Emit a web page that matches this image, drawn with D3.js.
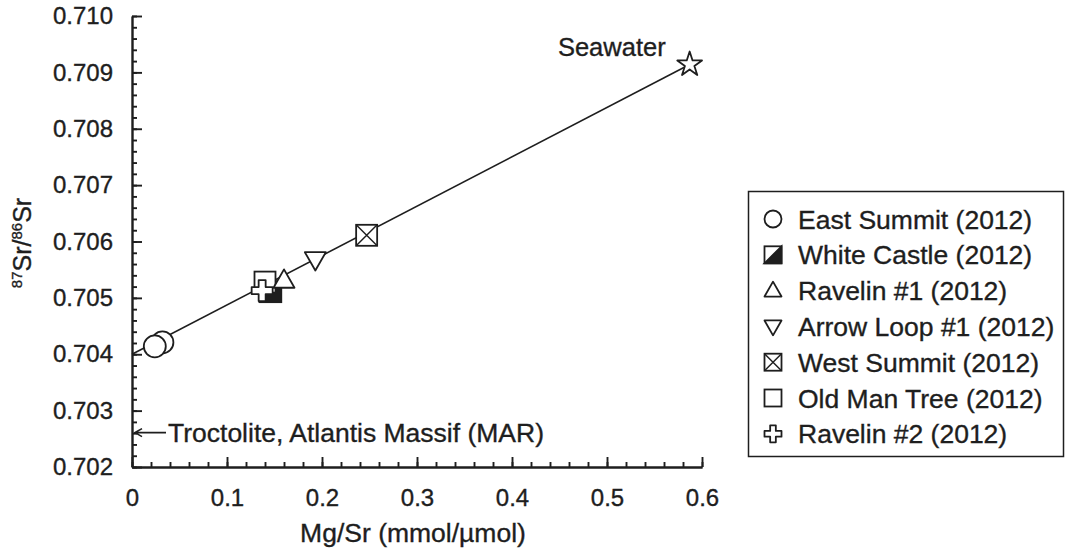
<!DOCTYPE html>
<html>
<head>
<meta charset="utf-8">
<script src="https://cdn.jsdelivr.net/npm/d3@7"></script>
<style>
  body { margin: 0; background: #fff; }
  svg { display: block; font-family: Arial, 'Liberation Sans', sans-serif; }
  svg text { stroke: #1e1e1e; stroke-width: 0.35px; }
  .axis path, .axis line { stroke: #1e1e1e; stroke-width: 1.9; }
  .axis text { fill: #1e1e1e; font-size: 24px; }
</style>
</head>
<body>
<div id="chart"></div>
<script>
// Sites (legend order) and their marker type
const sites = ['East Summit (2012)', 'White Castle (2012)', 'Ravelin #1 (2012)', 'Arrow Loop #1 (2012)',
               'West Summit (2012)', 'Old Man Tree (2012)', 'Ravelin #2 (2012)'];
const siteMarkers = ['circle', 'halfSquare', 'triangleUp', 'triangleDown', 'crossedSquare', 'square', 'plus'];

// Samples, in drawing order
const sampleSite = ['East Summit (2012)', 'East Summit (2012)', 'White Castle (2012)', 'Old Man Tree (2012)',
                    'Ravelin #2 (2012)', 'Ravelin #1 (2012)', 'Arrow Loop #1 (2012)', 'West Summit (2012)'];
const sampleMgSr = [0.032, 0.024, 0.146, 0.140, 0.137, 0.160, 0.193, 0.247];
const sampleSr = [0.70421, 0.70414, 0.70511, 0.70528, 0.70513, 0.70531, 0.70568, 0.70611];

// Seawater end member and mixing line
const seawaterMgSr = 0.587;
const seawaterSr = 0.70914;
const mixMgSr = [0, 0.587];
const mixSr = [0.70400, 0.70914];

// Troctolite reference value (arrow on y axis)
const troctoliteSr = 0.70261;

// Axis ticks
const xTicks = [0, 0.1, 0.2, 0.3, 0.4, 0.5, 0.6];
const yTicks = [0.702, 0.703, 0.704, 0.705, 0.706, 0.707, 0.708, 0.709, 0.710];

const width = 1067, height = 550;
const ink = '#1e1e1e';

const svg = d3.select('#chart').append('svg')
    .attr('width', width)
    .attr('height', height);

const x = d3.scaleLinear().domain([0, 0.6]).range([132, 702]);
const y = d3.scaleLinear().domain([0.702, 0.710]).range([467, 16]);

// Minor ticks
svg.append('g')
    .attr('class', 'axis')
    .attr('transform', `translate(0,${y(0.702)})`)
    .call(d3.axisBottom(x).ticks(30).tickSize(-5).tickSizeOuter(0).tickFormat(''));
svg.append('g')
    .attr('class', 'axis')
    .attr('transform', `translate(${x(0)},0)`)
    .call(d3.axisLeft(y).ticks(40).tickSize(-5).tickSizeOuter(0).tickFormat(''));

// Major ticks
const xAxis = svg.append('g')
    .attr('class', 'axis')
    .attr('transform', `translate(0,${y(0.702)})`)
    .call(d3.axisBottom(x).tickValues(xTicks).tickSize(-10).tickSizeOuter(0)
        .tickFormat(d => d === 0 ? '0' : d3.format('.1f')(d)));
const yAxis = svg.append('g')
    .attr('class', 'axis')
    .attr('transform', `translate(${x(0)},0)`)
    .call(d3.axisLeft(y).tickValues(yTicks).tickSize(-10).tickSizeOuter(0)
        .tickPadding(19).tickFormat(d3.format('.3f')));
xAxis.selectAll('text').attr('dy', '0.35em').attr('y', 31);

// Axis titles
svg.append('text')
    .attr('x', (x(0) + x(0.6)) / 2 - 4)
    .attr('y', 542)
    .attr('text-anchor', 'middle')
    .attr('font-size', 26.5)
    .attr('fill', ink)
    .text('Mg/Sr (mmol/µmol)');

const yTitle = svg.append('text')
    .attr('transform', 'translate(31,243) rotate(-90)')
    .attr('text-anchor', 'middle')
    .attr('font-size', 25)
    .attr('fill', ink);
yTitle.append('tspan').attr('font-size', 15).attr('dy', -9).text('87');
yTitle.append('tspan').attr('dy', 9).text('Sr/');
yTitle.append('tspan').attr('font-size', 15).attr('dy', -9).text('86');
yTitle.append('tspan').attr('dy', 9).text('Sr');

// Mixing line
svg.append('path')
    .datum(mixMgSr.map((d, i) => [d, mixSr[i]]))
    .attr('fill', 'none')
    .attr('stroke', ink)
    .attr('stroke-width', 1.6)
    .attr('d', d3.line().x(d => x(d[0])).y(d => y(d[1])));

// Marker drawing
function drawMarker(g, type, s) {
    const sw = 1.8;
    const box = () => g.append('rect')
        .attr('x', -s).attr('y', -s).attr('width', 2 * s).attr('height', 2 * s)
        .attr('fill', '#fff').attr('stroke', ink).attr('stroke-width', sw);
    if (type === 'circle') {
        g.append('circle').attr('r', s).attr('fill', '#fff').attr('stroke', ink).attr('stroke-width', sw);
    } else if (type === 'square') {
        box();
    } else if (type === 'halfSquare') {
        box();
        g.append('path').attr('d', `M${s},${-s}L${s},${s}L${-s},${s}Z`).attr('fill', ink)
            .attr('stroke', ink).attr('stroke-width', sw);
    } else if (type === 'crossedSquare') {
        box();
        g.append('path').attr('d', `M${-s},${-s}L${s},${s}M${s},${-s}L${-s},${s}`)
            .attr('stroke', ink).attr('stroke-width', sw * 0.8);
    } else if (type === 'triangleUp' || type === 'triangleDown') {
        const k = type === 'triangleUp' ? 1 : -1;
        g.append('path')
            .attr('d', `M0,${-1.05 * s * k}L${s},${0.7 * s * k}L${-s},${0.7 * s * k}Z`)
            .attr('fill', '#fff').attr('stroke', ink).attr('stroke-width', sw).attr('stroke-linejoin', 'round');
    } else if (type === 'plus') {
        g.append('path')
            .attr('d', d3.symbol(d3.symbolCross, 20 * s * s / 9)())
            .attr('fill', '#fff').attr('stroke', ink).attr('stroke-width', sw).attr('stroke-linejoin', 'round');
    } else if (type === 'star') {
        g.append('path')
            .attr('d', d3.symbol(d3.symbolStar, s * s / 0.8908)())
            .attr('fill', '#fff').attr('stroke', ink).attr('stroke-width', sw).attr('stroke-linejoin', 'round');
    }
}

// Samples
sampleMgSr.forEach((d, i) => {
    const g = svg.append('g').attr('transform', `translate(${x(d)},${y(sampleSr[i])})`);
    drawMarker(g, siteMarkers[sites.indexOf(sampleSite[i])], sampleSite[i].startsWith('East') ? 11 : 10.5);
});

// Seawater
const sw = svg.append('g').attr('transform', `translate(${x(seawaterMgSr)},${y(seawaterSr)})`);
drawMarker(sw, 'star', 13);
svg.append('text')
    .attr('x', x(seawaterMgSr) - 24)
    .attr('y', y(seawaterSr) - 8)
    .attr('text-anchor', 'end')
    .attr('font-size', 25.5)
    .attr('fill', ink)
    .text('Seawater');

// Troctolite arrow
const ty = y(troctoliteSr);
svg.append('path')
    .attr('d', `M${x(0) + 34},${ty}H${x(0) + 3}M${x(0) + 10},${ty - 4}L${x(0) + 3},${ty}L${x(0) + 10},${ty + 4}`)
    .attr('fill', 'none').attr('stroke', ink).attr('stroke-width', 1.6);
svg.append('text')
    .attr('x', x(0) + 36)
    .attr('y', ty)
    .attr('dy', '0.35em')
    .attr('font-size', 26.5)
    .attr('fill', ink)
    .text('Troctolite, Atlantis Massif (MAR)');

// Legend
const legend = svg.append('g');
legend.append('rect')
    .attr('x', 748.5).attr('y', 191.5).attr('width', 315).attr('height', 265)
    .attr('fill', '#fff').attr('stroke', ink).attr('stroke-width', 1.5);
sites.forEach((name, i) => {
    const cy = 219 + i * 35.8;
    const g = legend.append('g').attr('transform', `translate(773,${cy})`);
    drawMarker(g, siteMarkers[i], 8.5);
    legend.append('text')
        .attr('x', 798)
        .attr('y', cy)
        .attr('dy', '0.36em')
        .attr('font-size', 26.5)
        .attr('fill', ink)
        .text(name);
});
</script>
</body>
</html>
